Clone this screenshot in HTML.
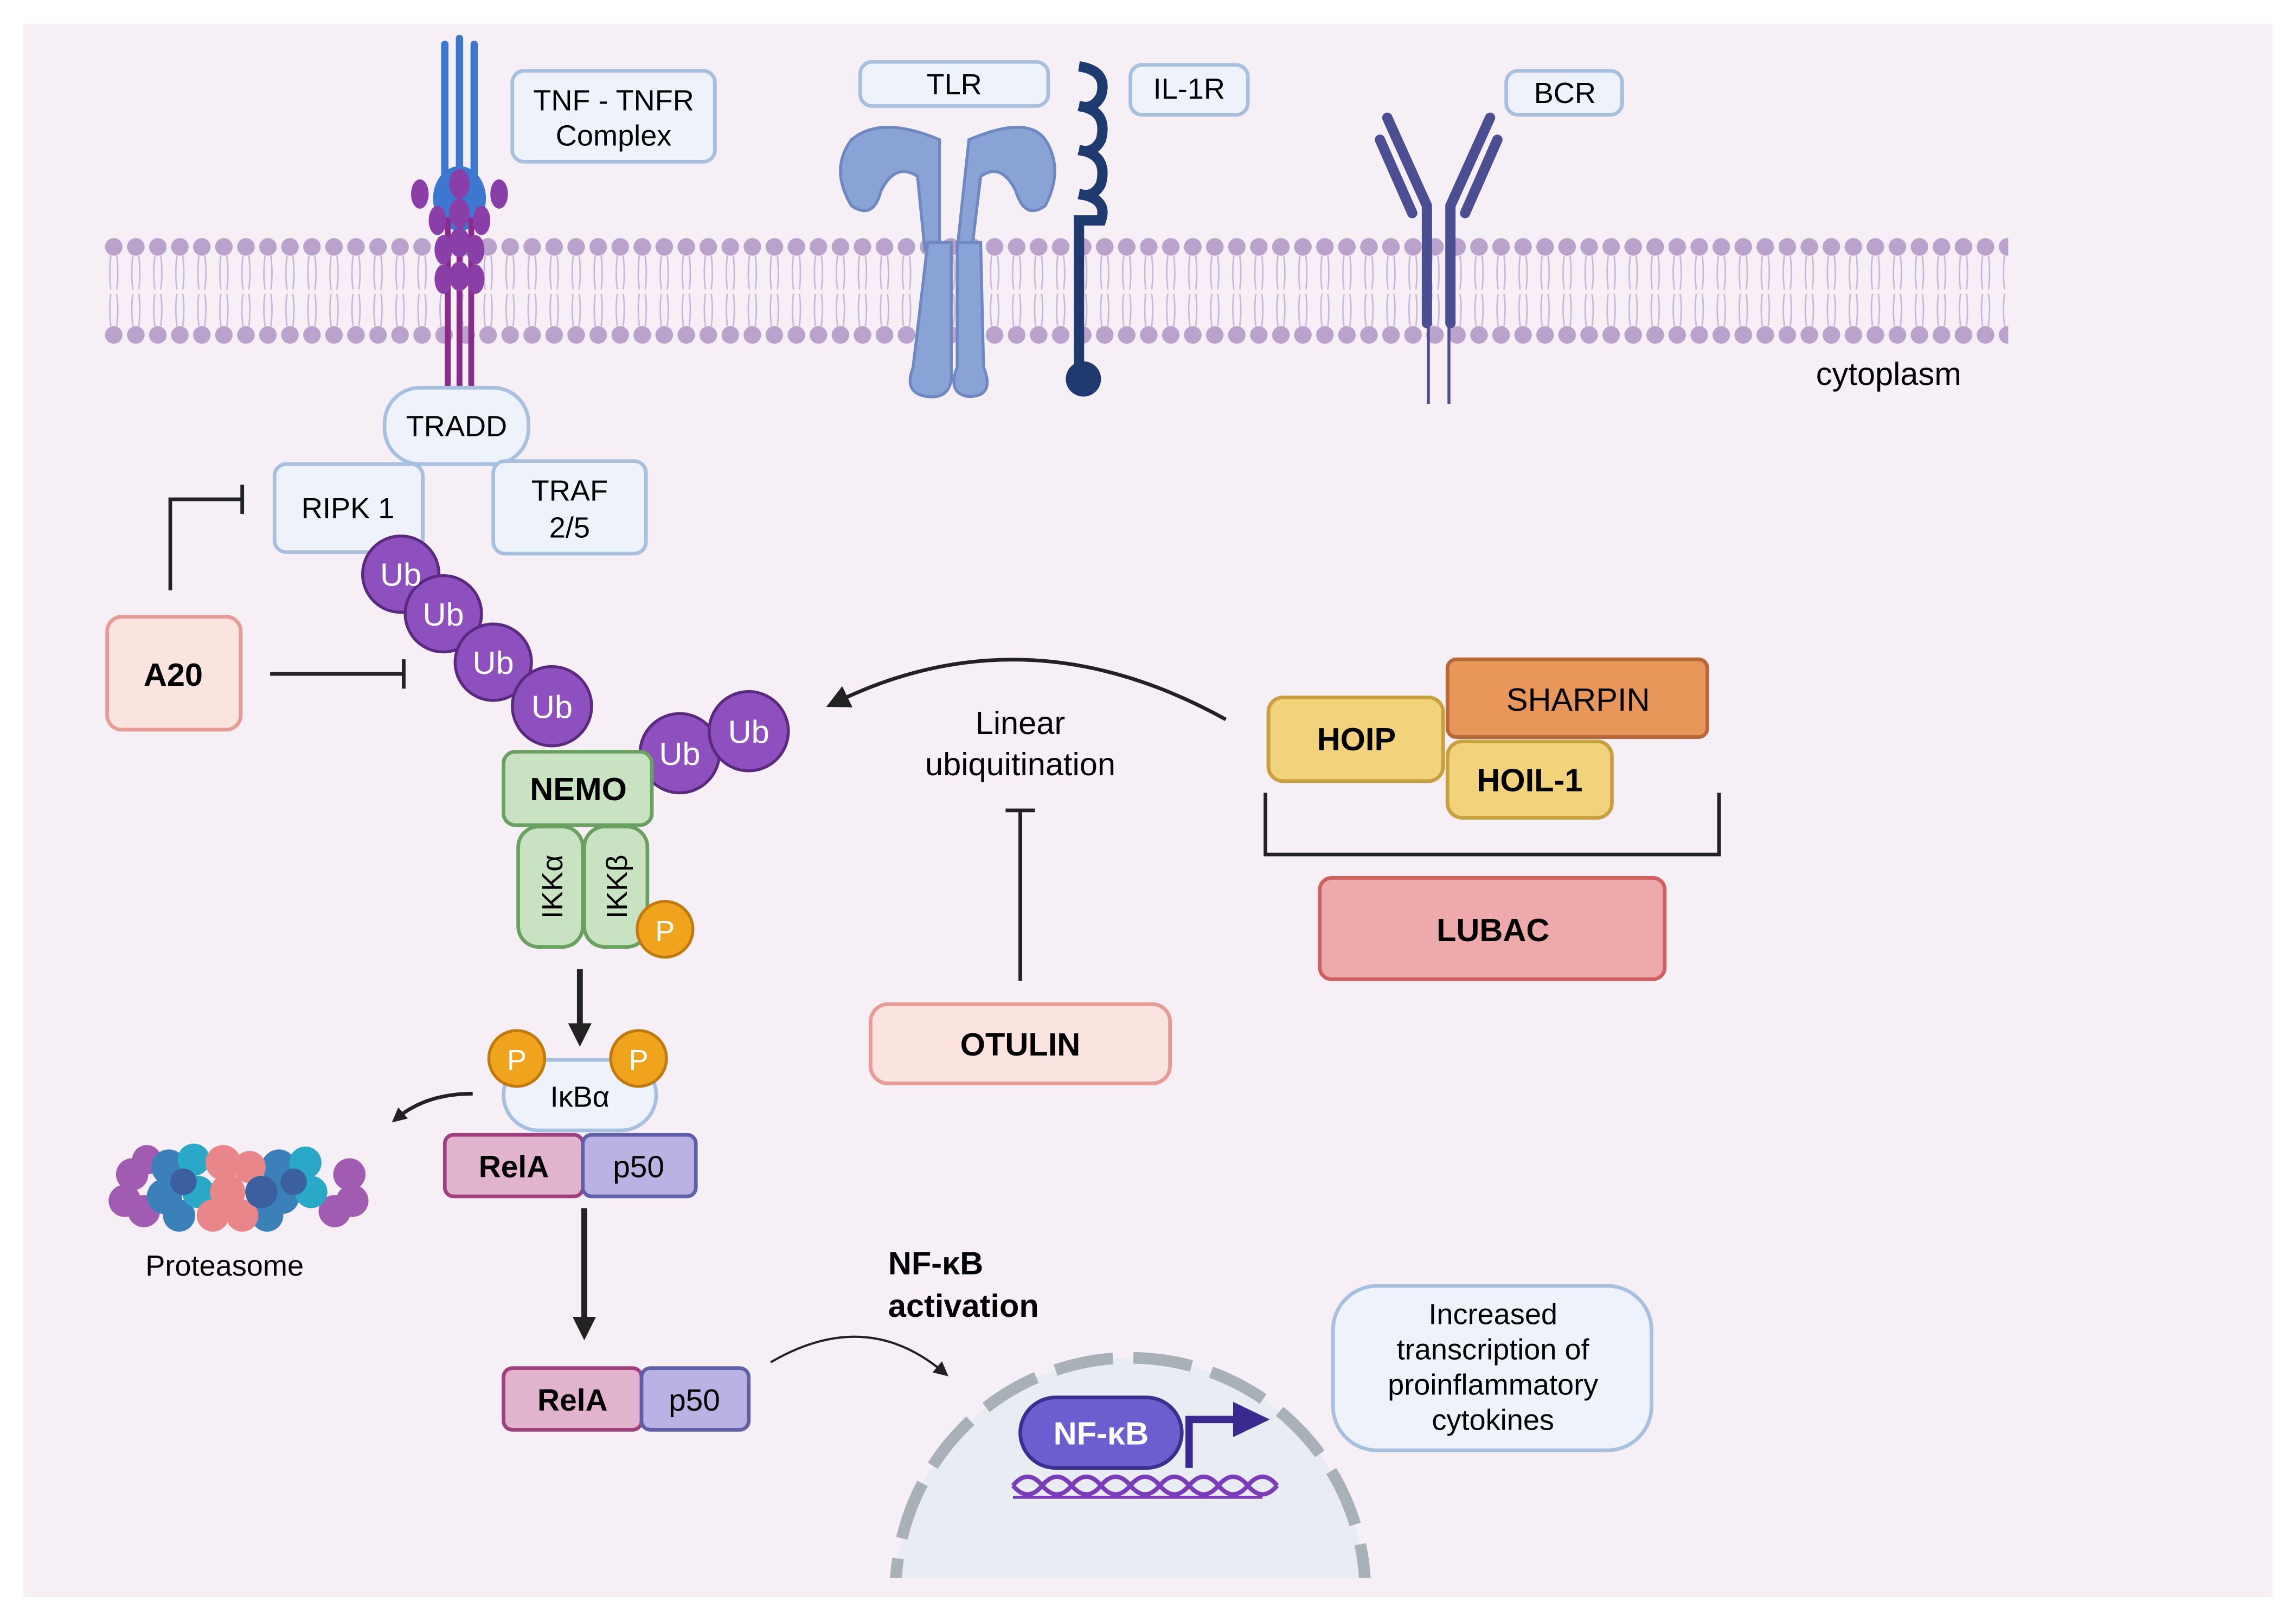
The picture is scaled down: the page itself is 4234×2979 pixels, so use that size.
<!DOCTYPE html>
<html><head><meta charset="utf-8"><style>
html,body{margin:0;padding:0;background:#fff;width:4234px;height:2979px;overflow:hidden;}
svg{display:block;}
text{font-family:"Liberation Sans",sans-serif;}
</style></head><body>
<svg width="4234" height="2979" viewBox="0 0 1564 1100" xmlns="http://www.w3.org/2000/svg">
<defs>
<pattern id="mem" x="70" y="0" width="15" height="1100" patternUnits="userSpaceOnUse">
<circle cx="7.5" cy="168" r="6" fill="#b9a3cc"/>
<circle cx="7.5" cy="228" r="6" fill="#b9a3cc"/>
<path d="M5.5 174 Q4 186 5.5 197 M9.5 174 Q11 186 9.5 197 M5.5 222 Q4 210 5.5 200 M9.5 222 Q11 210 9.5 200" stroke="#c9b6d8" stroke-width="1" fill="none"/>
</pattern>
<marker id="ah" markerWidth="10" markerHeight="10" refX="6" refY="5" orient="auto" markerUnits="userSpaceOnUse"><path d="M0 0 L10 5 L0 10 Z" fill="#222"/></marker>
<marker id="ah2" markerWidth="16" markerHeight="16" refX="8" refY="8" orient="auto" markerUnits="userSpaceOnUse"><path d="M0 0 L16 8 L0 16 Z" fill="#222"/></marker>
<clipPath id="nuc"><rect x="580" y="880" width="400" height="195"/></clipPath>
</defs>
<rect x="16" y="16" width="1532" height="1072" fill="#f6f0f6"/>
<rect x="70" y="150" width="1298" height="90" fill="url(#mem)"/>

<!-- TNFR -->
<g stroke-linecap="round">
<line x1="303" y1="30" x2="303" y2="140" stroke="#3d78d0" stroke-width="5"/>
<line x1="313" y1="26" x2="313" y2="140" stroke="#3d78d0" stroke-width="5"/>
<line x1="323" y1="30" x2="323" y2="140" stroke="#3d78d0" stroke-width="5"/>
<ellipse cx="313" cy="135" rx="18" ry="22" fill="#3d78d0"/>
<line x1="305" y1="150" x2="305" y2="262" stroke="#8a2a8a" stroke-width="4"/>
<line x1="313" y1="150" x2="313" y2="262" stroke="#8a2a8a" stroke-width="4"/>
<line x1="321" y1="150" x2="321" y2="262" stroke="#8a2a8a" stroke-width="4"/>
</g>
<g fill="#8a3fa8">
<ellipse cx="313" cy="125" rx="7" ry="10"/><ellipse cx="313" cy="145" rx="7" ry="10"/><ellipse cx="313" cy="165" rx="7" ry="10"/><ellipse cx="313" cy="188" rx="7" ry="10"/>
<ellipse cx="298" cy="150" rx="6" ry="10"/><ellipse cx="328" cy="150" rx="6" ry="10"/><ellipse cx="302" cy="170" rx="6" ry="10"/><ellipse cx="324" cy="170" rx="6" ry="10"/><ellipse cx="302" cy="190" rx="6" ry="10"/><ellipse cx="324" cy="190" rx="6" ry="10"/>
<ellipse cx="286" cy="132" rx="6" ry="10"/><ellipse cx="340" cy="132" rx="6" ry="10"/>
</g>
<rect x="349" y="48" width="138" height="62" rx="8" fill="#eef3fb" stroke="#a8c0e0" stroke-width="2.5"/>
<text x="418" y="75" font-size="20" text-anchor="middle">TNF - TNFR</text>
<text x="418" y="99" font-size="20" text-anchor="middle">Complex</text>

<!-- TLR -->
<rect x="586" y="42" width="128" height="30" rx="8" fill="#eef3fb" stroke="#a8c0e0" stroke-width="2.5"/>
<text x="650" y="64" font-size="20" text-anchor="middle">TLR</text>
<g fill="#8aa3d6" stroke="#6f88c0" stroke-width="2">
<path d="M640 95 Q600 78 580 95 Q565 115 580 140 Q595 150 600 130 Q610 110 625 120 L630 170 L640 170 Z"/>
<path d="M660 95 Q700 78 712 95 Q725 115 712 140 Q698 150 692 130 Q682 110 668 120 L662 170 L652 170 Z"/>
<path d="M632 165 L648 165 L648 250 Q650 272 632 270 Q615 268 622 250 Z"/>
<path d="M652 165 L668 165 L670 250 Q678 270 660 270 Q645 268 652 250 Z"/>
</g>
<!-- IL-1R -->
<rect x="770" y="44" width="80" height="34" rx="8" fill="#eef3fb" stroke="#a8c0e0" stroke-width="2.5"/>
<text x="810" y="67" font-size="20" text-anchor="middle">IL-1R</text>
<path d="M735 45 Q755 48 750 65 Q745 75 735 72 M735 72 Q755 75 750 95 Q745 105 735 102 M735 102 Q755 105 750 125 Q745 135 735 132 M735 132 Q755 135 750 150 L735 150 L735 250" stroke="#1e3a6e" stroke-width="7" fill="none"/>
<circle cx="738" cy="258" r="12" fill="#1e3a6e"/>
<!-- BCR -->
<rect x="1026" y="48" width="79" height="30" rx="8" fill="#eef3fb" stroke="#a8c0e0" stroke-width="2.5"/>
<text x="1066" y="70" font-size="20" text-anchor="middle">BCR</text>
<g stroke="#4b4f92" stroke-width="7" fill="none" stroke-linecap="round">
<path d="M945 80 L972 140 L972 220"/><path d="M1015 80 L988 140 L988 220"/>
<path d="M940 95 L962 145"/><path d="M1020 95 L998 145"/>
</g>
<line x1="973" y1="220" x2="973" y2="275" stroke="#4b4f92" stroke-width="2"/>
<line x1="987" y1="220" x2="987" y2="275" stroke="#4b4f92" stroke-width="2"/>
<text x="1237" y="262" font-size="22">cytoplasm</text>

<!-- TRADD etc -->
<rect x="262" y="264" width="98" height="52" rx="24" fill="#eef3fb" stroke="#a8c0e0" stroke-width="2.5"/>
<text x="311" y="297" font-size="20" text-anchor="middle">TRADD</text>
<rect x="187" y="316" width="101" height="60" rx="8" fill="#eef3fb" stroke="#a8c0e0" stroke-width="2.5"/>
<text x="237" y="353" font-size="20" text-anchor="middle">RIPK 1</text>
<rect x="336" y="314" width="104" height="63" rx="8" fill="#eef3fb" stroke="#a8c0e0" stroke-width="2.5"/>
<text x="388" y="341" font-size="20" text-anchor="middle">TRAF</text>
<text x="388" y="366" font-size="20" text-anchor="middle">2/5</text>

<path d="M116 402 L116 340 L165 340" stroke="#222" stroke-width="2.5" fill="none"/>
<line x1="165" y1="330" x2="165" y2="350" stroke="#222" stroke-width="2.5"/>
<rect x="73" y="420" width="91" height="77" rx="10" fill="#fbe3e0" stroke="#e89a94" stroke-width="2.5"/>
<text x="118" y="467" font-size="22" font-weight="bold" text-anchor="middle">A20</text>
<line x1="184" y1="459" x2="275" y2="459" stroke="#222" stroke-width="2.5"/>
<line x1="275" y1="449" x2="275" y2="469" stroke="#222" stroke-width="2.5"/>

<g fill="#8e4fbf" stroke="#5a2a80" stroke-width="2">
<circle cx="273" cy="391" r="26"/><circle cx="302" cy="418" r="26"/><circle cx="336" cy="451" r="26"/><circle cx="376" cy="481" r="27"/><circle cx="463" cy="513" r="27"/><circle cx="510" cy="498" r="27"/>
</g>
<g fill="#fff" font-size="22" text-anchor="middle">
<text x="273" y="399">Ub</text><text x="302" y="426">Ub</text><text x="336" y="459">Ub</text><text x="376" y="489">Ub</text><text x="463" y="521">Ub</text><text x="510" y="506">Ub</text>
</g>

<rect x="343" y="512" width="101" height="50" rx="8" fill="#c9e2c1" stroke="#6aa060" stroke-width="2.5"/>
<text x="394" y="545" font-size="22" font-weight="bold" text-anchor="middle">NEMO</text>
<rect x="353" y="563" width="44" height="82" rx="14" fill="#c9e2c1" stroke="#6aa060" stroke-width="2.5"/>
<rect x="398" y="563" width="43" height="82" rx="14" fill="#c9e2c1" stroke="#6aa060" stroke-width="2.5"/>
<text transform="translate(383,604) rotate(-90)" font-size="20" text-anchor="middle">IKKα</text>
<text transform="translate(427,604) rotate(-90)" font-size="20" text-anchor="middle">IKKβ</text>
<circle cx="453" cy="633" r="19" fill="#f0a31c" stroke="#c07a10" stroke-width="2"/>
<text x="453" y="641" font-size="20" fill="#fff" text-anchor="middle">P</text>

<line x1="395" y1="660" x2="395" y2="705" stroke="#222" stroke-width="4" marker-end="url(#ah2)"/>
<rect x="343" y="722" width="104" height="48" rx="24" fill="#eef3fb" stroke="#a8c0e0" stroke-width="2.5"/>
<text x="395" y="754" font-size="20" text-anchor="middle">IκBα</text>
<circle cx="352" cy="721" r="19" fill="#f0a31c" stroke="#c07a10" stroke-width="2"/>
<text x="352" y="729" font-size="20" fill="#fff" text-anchor="middle">P</text>
<circle cx="435" cy="721" r="19" fill="#f0a31c" stroke="#c07a10" stroke-width="2"/>
<text x="435" y="729" font-size="20" fill="#fff" text-anchor="middle">P</text>
<path d="M322 745 Q290 745 270 762" stroke="#222" stroke-width="2.5" fill="none" marker-end="url(#ah)"/>

<!-- Proteasome -->
<g>
<g fill="#a15bb0"><circle cx="90" cy="800" r="11"/><circle cx="85" cy="818" r="11"/><circle cx="98" cy="825" r="11"/><circle cx="238" cy="800" r="11"/><circle cx="240" cy="818" r="11"/><circle cx="228" cy="825" r="11"/><circle cx="100" cy="790" r="10"/></g>
<g fill="#3b80b8"><circle cx="115" cy="795" r="12"/><circle cx="112" cy="815" r="12"/><circle cx="122" cy="828" r="11"/><circle cx="190" cy="795" r="12"/><circle cx="192" cy="815" r="12"/><circle cx="182" cy="828" r="11"/></g>
<g fill="#29a8c8"><circle cx="132" cy="790" r="11"/><circle cx="135" cy="812" r="11"/><circle cx="208" cy="792" r="11"/><circle cx="212" cy="812" r="11"/></g>
<g fill="#e8868a"><circle cx="152" cy="792" r="12"/><circle cx="155" cy="812" r="12"/><circle cx="165" cy="828" r="11"/><circle cx="170" cy="795" r="11"/><circle cx="145" cy="828" r="11"/></g>
<g fill="#3b5f9f"><circle cx="178" cy="812" r="11"/><circle cx="125" cy="805" r="9"/><circle cx="200" cy="805" r="9"/></g>
</g>
<text x="153" y="869" font-size="20" text-anchor="middle">Proteasome</text>

<rect x="303" y="773" width="94" height="42" rx="6" fill="#e2b3cd" stroke="#a04080" stroke-width="2.5"/>
<text x="350" y="802" font-size="21" font-weight="bold" text-anchor="middle">RelA</text>
<rect x="397" y="773" width="77" height="42" rx="6" fill="#b9b2e2" stroke="#6060a8" stroke-width="2.5"/>
<text x="435" y="802" font-size="21" text-anchor="middle">p50</text>
<line x1="398" y1="823" x2="398" y2="905" stroke="#222" stroke-width="4" marker-end="url(#ah2)"/>
<rect x="343" y="932" width="94" height="42" rx="6" fill="#e2b3cd" stroke="#a04080" stroke-width="2.5"/>
<text x="390" y="961" font-size="21" font-weight="bold" text-anchor="middle">RelA</text>
<rect x="437" y="932" width="73" height="42" rx="6" fill="#b9b2e2" stroke="#6060a8" stroke-width="2.5"/>
<text x="473" y="961" font-size="21" text-anchor="middle">p50</text>
<path d="M525 928 Q590 890 643 935" stroke="#222" stroke-width="1.5" fill="none" marker-end="url(#ah)"/>
<text x="605" y="868" font-size="22" font-weight="bold">NF-κB</text>
<text x="605" y="897" font-size="22" font-weight="bold">activation</text>

<!-- nucleus -->
<g clip-path="url(#nuc)">
<circle cx="770" cy="1085" r="160" fill="#e9edf3" stroke="#a9b1b8" stroke-width="8" stroke-dasharray="40 14"/>
</g>
<g stroke="#7a3cb8" stroke-width="3" fill="none">
<path d="M690 1012 q10 -12 20 0 t20 0 t20 0 t20 0 t20 0 t20 0 t20 0 t20 0 t20 0"/>
<path d="M690 1012 q10 12 20 0 t20 0 t20 0 t20 0 t20 0 t20 0 t20 0 t20 0 t20 0"/>
</g>
<line x1="690" y1="1020" x2="860" y2="1020" stroke="#7a3cb8" stroke-width="2"/>
<path d="M810 1000 L810 967 L843 967" stroke="#3a2a90" stroke-width="5" fill="none"/>
<path d="M840 955 L865 967 L840 979 Z" fill="#3a2a90"/>
<rect x="695" y="952" width="110" height="48" rx="24" fill="#6b5fd0" stroke="#3a3090" stroke-width="2.5"/>
<text x="750" y="984" font-size="22" font-weight="bold" fill="#fff" text-anchor="middle">NF-κB</text>

<rect x="908" y="876" width="217" height="112" rx="30" fill="#eef3fb" stroke="#a8c0e0" stroke-width="2.5"/>
<g font-size="20" text-anchor="middle"><text x="1017" y="902">Increased</text><text x="1017" y="926">transcription of</text><text x="1017" y="950">proinflammatory</text><text x="1017" y="974">cytokines</text></g>

<!-- LUBAC -->
<path d="M835 490 Q700 415 570 478" stroke="#222" stroke-width="2.5" fill="none" marker-end="url(#ah2)"/>
<text x="695" y="500" font-size="22" text-anchor="middle">Linear</text>
<text x="695" y="528" font-size="22" text-anchor="middle">ubiquitination</text>
<line x1="695" y1="668" x2="695" y2="552" stroke="#222" stroke-width="2.5"/>
<line x1="685" y1="552" x2="705" y2="552" stroke="#222" stroke-width="2.5"/>
<rect x="593" y="684" width="204" height="54" rx="12" fill="#fbe3e0" stroke="#e89a94" stroke-width="2.5"/>
<text x="695" y="719" font-size="22" font-weight="bold" text-anchor="middle">OTULIN</text>
<rect x="986" y="449" width="177" height="53" rx="6" fill="#e8965a" stroke="#b86838" stroke-width="2.5"/>
<text x="1075" y="484" font-size="22" text-anchor="middle">SHARPIN</text>
<rect x="864" y="475" width="119" height="57" rx="10" fill="#f2d27a" stroke="#c8a040" stroke-width="2.5"/>
<text x="924" y="511" font-size="22" font-weight="bold" text-anchor="middle">HOIP</text>
<rect x="986" y="505" width="112" height="52" rx="10" fill="#f2d27a" stroke="#c8a040" stroke-width="2.5"/>
<text x="1042" y="539" font-size="22" font-weight="bold" text-anchor="middle">HOIL-1</text>
<path d="M862 540 L862 582 L1171 582 L1171 540" stroke="#222" stroke-width="2.5" fill="none"/>
<rect x="899" y="598" width="235" height="69" rx="8" fill="#eeaaaa" stroke="#d06060" stroke-width="2.5"/>
<text x="1017" y="641" font-size="22" font-weight="bold" text-anchor="middle">LUBAC</text>
</svg>
</body></html>
